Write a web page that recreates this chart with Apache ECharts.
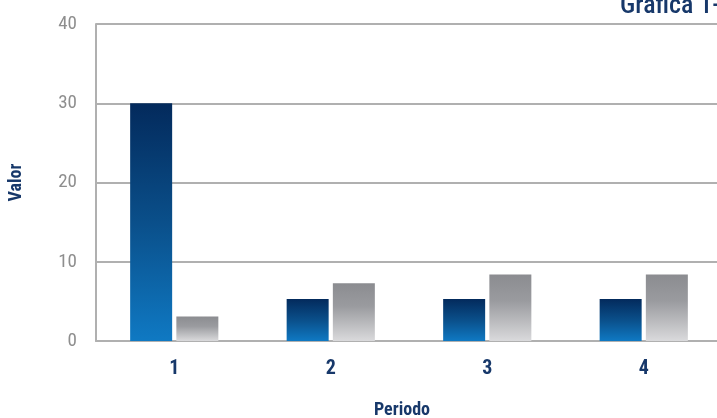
<!DOCTYPE html>
<html>
<head>
<meta charset="utf-8">
<script src="https://cdn.jsdelivr.net/npm/echarts@6/dist/echarts.min.js"></script>
<style>html,body{margin:0;padding:0;background:#fff}#c{width:717px;height:418px}</style>
</head>
<body>
<div id="c"></div>
<script>
var categories = ['1', '2', '3', '4'];
var seriesBlue = [30, 5.3, 5.3, 5.3];
var seriesGray = [3.1, 7.3, 8.4, 8.4];
var yTicks = [0, 10, 20, 30, 40];
var titleText = 'Grafica 1-';

var FONT = '"Roboto Condensed", "Open Sans Condensed", "DejaVu Sans Condensed", sans-serif';
var NAVY = '#17386a';
var chart = echarts.init(document.getElementById('c'));
chart.setOption({
  animation: false,
  backgroundColor: '#ffffff',
  graphic: [{
    type: 'text', left: 620, top: -7,
    style: { text: titleText, fontFamily: FONT, fontSize: 26, fontWeight: 500, fill: NAVY }
  }],
  grid: { left: 96, right: -5, top: 24, bottom: 77, outerBoundsMode: 'none', containLabel: false },
  xAxis: {
    type: 'category', data: categories,
    name: 'Periodo', nameLocation: 'middle', nameGap: 60,
    nameTextStyle: { fontFamily: FONT, fontSize: 18, fontWeight: 'bold', color: NAVY, padding: [0, 14, 0, 0] },
    axisLine: { show: true, lineStyle: { color: '#b0b0b0', width: 2 } },
    axisTick: { show: false },
    axisLabel: { margin: 18, fontFamily: FONT, fontSize: 20, fontWeight: 'bold', color: NAVY }
  },
  yAxis: {
    type: 'value', min: yTicks[0], max: yTicks[yTicks.length - 1], interval: 10,
    name: 'Valor', nameLocation: 'middle', nameGap: 71,
    nameTextStyle: { fontFamily: FONT, fontSize: 18, fontWeight: 'bold', color: NAVY },
    axisLine: { show: true, lineStyle: { color: '#b0b0b0', width: 2 } },
    axisTick: { show: false },
    axisLabel: { margin: 19, fontFamily: FONT, fontSize: 19, color: '#8e8e8e' },
    splitLine: { show: true, lineStyle: { color: '#b0b0b0', width: 2 } }
  },
  series: [{
    type: 'bar', data: seriesBlue, barWidth: 42, barGap: '10%',
    itemStyle: { color: new echarts.graphic.LinearGradient(0, 0, 0, 1, [
      { offset: 0, color: '#032a5c' }, { offset: 0.5, color: '#0a4f8a' }, { offset: 1, color: '#0f79c3' }]) }
  }, {
    type: 'bar', data: seriesGray, barWidth: 42,
    itemStyle: { color: new echarts.graphic.LinearGradient(0, 0, 0, 1, [
      { offset: 0, color: '#8b8c90' }, { offset: 0.4, color: '#9a9b9f' }, { offset: 1, color: '#dadadc' }]) }
  }]
});
</script>
</body>
</html>
